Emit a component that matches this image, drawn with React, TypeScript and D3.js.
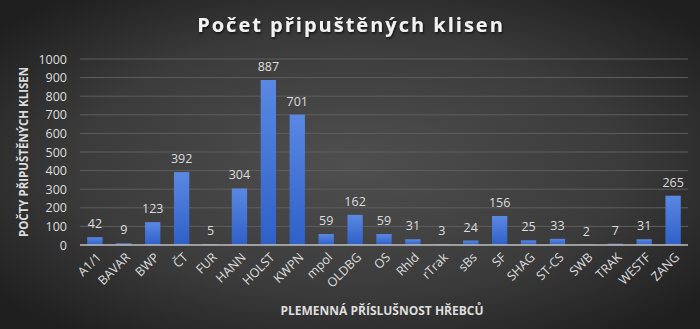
import React from "react";
import * as d3 from "d3";

const categories = ["A1/1","BAVAR","BWP","ČT","FUR","HANN","HOLST","KWPN","mpol","OLDBG","OS","Rhld","rTrak","sBs","SF","SHAG","ST-CS","SWB","TRAK","WESTF","ZANG"];
const values = [42,9,123,392,5,304,887,701,59,162,59,31,3,24,156,25,33,2,7,31,265];
const yTicks = [0,100,200,300,400,500,600,700,800,900,1000];
const title = "Počet připuštěných klisen";
const yTitle = "POČTY PŘIPUŠTĚNÝCH KLISEN";
const xTitle = "PLEMENNÁ PŘÍSLUŠNOST HŘEBCŮ";

export default function App() {
  const W = 700, H = 329;
  const left = 80, right = 688, top = 59, bottom = 245;
  const x = d3.scaleBand<string>().domain(categories).range([left, right]).paddingInner(0.47).paddingOuter(0.25);
  const y = d3.scaleLinear().domain([0, 1000]).range([bottom, top]);
  const font = "'Open Sans', sans-serif";
  const txt = "#dedede";
  return (
    <svg width={W} height={H} style={{ position: "absolute", left: 0, top: 0 }}>
      <defs>
        <radialGradient id="bg" cx="50%" cy="50%" r="65%">
          <stop offset="0%" stopColor="#4f4f4f" />
          <stop offset="60%" stopColor="#3b3b3b" />
          <stop offset="100%" stopColor="#1f1f1f" />
        </radialGradient>
        <linearGradient id="bar" x1="0" y1="0" x2="0" y2="1">
          <stop offset="0%" stopColor="#5a88e2" />
          <stop offset="100%" stopColor="#2f60c8" />
        </linearGradient>
        <filter id="sh" x="-10%" y="-10%" width="120%" height="130%">
          <feDropShadow dx="1" dy="1.5" stdDeviation="1" floodColor="#000" floodOpacity="0.7" />
        </filter>
      </defs>
      <rect x={0} y={0} width={W} height={H} fill="url(#bg)" />
      <text x={351} y={32} textAnchor="middle" fill="#f2f2f2" fontFamily={font} fontWeight={700} fontSize={20} letterSpacing={2} filter="url(#sh)">{title}</text>
      {yTicks.map(t => (
        <g key={t}>
          {t > 0 && <line x1={left} x2={right} y1={y(t)} y2={y(t)} stroke="#5e5e5e" strokeWidth={1} />}
          <text x={67} y={y(t) + 4.5} textAnchor="end" fill={txt} fontFamily={font} fontSize={12.5}>{t}</text>
        </g>
      ))}
      {categories.map((c, i) => (
        <g key={c}>
          <rect x={x(c)} y={y(values[i])} width={x.bandwidth()} height={bottom - y(values[i])} fill="url(#bar)" />
          <text x={(x(c) as number) + x.bandwidth() / 2} y={y(values[i]) - 9} textAnchor="middle" fill={txt} fontFamily={font} fontSize={12.5}>{values[i]}</text>
          <text transform={`translate(${(x(c) as number) + x.bandwidth() / 2 + 4},${bottom + 10}) rotate(-45)`} textAnchor="end" fill={txt} fontFamily={font} fontSize={12.5} dy="0.35em">{c}</text>
        </g>
      ))}
      <line x1={left} x2={right} y1={bottom} y2={bottom} stroke="#bfbfbf" strokeWidth={1.5} />
      <text transform={`translate(28,${(top + bottom) / 2}) rotate(-90)`} textAnchor="middle" fill={txt} fontFamily={font} fontWeight={700} fontSize={11.5}>{yTitle}</text>
      <text x={(left + right) / 2 - 2} y={315} textAnchor="middle" fill={txt} fontFamily={font} fontWeight={700} fontSize={12}>{xTitle}</text>
    </svg>
  );
}
